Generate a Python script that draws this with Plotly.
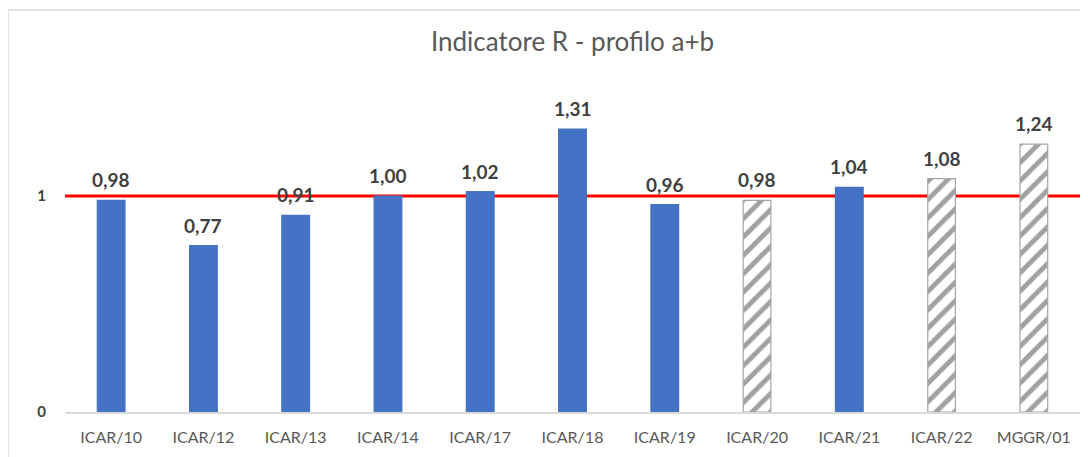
import plotly.graph_objects as go

categories = ["ICAR/10", "ICAR/12", "ICAR/13", "ICAR/14", "ICAR/17", "ICAR/18",
              "ICAR/19", "ICAR/20", "ICAR/21", "ICAR/22", "MGGR/01"]
values = [0.98, 0.77, 0.91, 1.00, 1.02, 1.31, 0.96, 0.98, 1.04, 1.08, 1.24]
hatched = [False, False, False, False, False, False, False, True, False, True, True]
reference_value = 1
title_text = "Indicatore R - profilo a+b"

FONT = "Lato"
blue = "#4472C4"

fig = go.Figure()
fig.add_trace(go.Bar(
    x=categories,
    y=values,
    marker=dict(
        color=["white" if h else blue for h in hatched],
        line=dict(color=["#A6A6A6" if h else blue for h in hatched], width=1.2),
        pattern=dict(
            shape=["/" if h else "" for h in hatched],
            fgcolor="#D3D3D3",
            bgcolor="white",
            size=13,
            solidity=0.38,
        ),
    ),
    cliponaxis=False,
    hoverinfo="skip",
))

for c, v in zip(categories, values):
    fig.add_annotation(x=c, y=v, text="<b>" + f"{v:.2f}".replace(".", ",") + "</b>",
                       showarrow=False, yanchor="bottom", yshift=7,
                       font=dict(family=FONT, size=19, color="#404040"))

fig.add_shape(type="line", xref="paper", yref="y", x0=0, x1=1,
              y0=reference_value, y1=reference_value,
              line=dict(color="#FF0000", width=3), layer="below")

# chart frame
fig.add_shape(type="rect", xref="paper", yref="paper",
              x0=-0.0562, x1=1.03, y0=-0.25, y1=1.2407,
              line=dict(color="#D9D9D9", width=1.5), layer="below")

fig.update_layout(
    width=1088, height=457,
    margin=dict(l=57, r=16, t=80, b=53),
    paper_bgcolor="white", plot_bgcolor="white",
    showlegend=False,
    bargap=0.7,
    title=dict(text=title_text, x=0.5, xref="paper", y=0.925, yanchor="middle",
               font=dict(family=FONT, size=26, color="#595959")),
    xaxis=dict(showgrid=False, showline=True, linecolor="#D9D9D9", linewidth=1.5,
               ticks="", ticklabelstandoff=10,
               tickfont=dict(family=FONT, size=16, color="#595959")),
    yaxis=dict(range=[0, 1.5], tickvals=[0, 1], ticktext=["<b>0</b>", "<b>1</b>"],
               showgrid=False, zeroline=False, showline=False,
               ticks="", ticklabelstandoff=18,
               tickfont=dict(family=FONT, size=15, color="#404040")),
)

fig.write_html("out.html")
